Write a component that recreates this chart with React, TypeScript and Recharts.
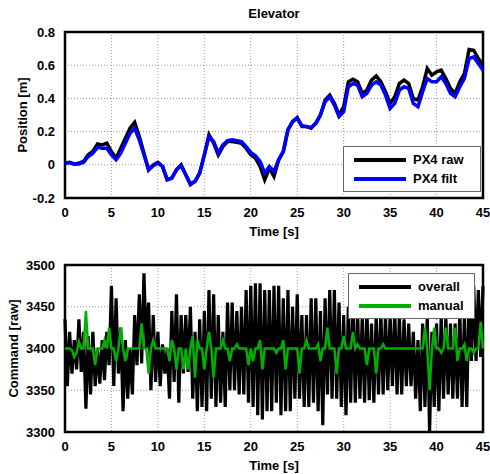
import React from 'react';
import { LineChart, Line, XAxis, YAxis, CartesianGrid, Legend, ReferenceArea } from 'recharts';

// time axis
const timeTicks = [0, 5, 10, 15, 20, 25, 30, 35, 40, 45];

// upper plot: elevator position, sampled every 0.5 s
const posStep = 0.5;
const posTicks = [-0.2, 0, 0.2, 0.4, 0.6, 0.8];
const px4Raw = [
  0.01, 0.014, 0.005, 0.01, 0.02, 0.06, 0.08, 0.125, 0.12, 0.13,
  0.08, 0.04, 0.1, 0.16, 0.22, 0.255, 0.17, 0.07, -0.03, 0.0,
  0.015, -0.01, -0.09, -0.08, -0.03, 0.0, -0.06, -0.12, -0.1, -0.05,
  0.06, 0.18, 0.13, 0.06, 0.11, 0.14, 0.14, 0.135, 0.13, 0.1,
  0.06, 0.04, -0.01, -0.09, -0.02, -0.07, 0.03, 0.08, 0.21, 0.26,
  0.285, 0.23, 0.23, 0.22, 0.25, 0.3, 0.39, 0.42, 0.37, 0.3,
  0.35, 0.5, 0.515, 0.5, 0.43, 0.45, 0.51, 0.535, 0.5, 0.44,
  0.37, 0.41, 0.49, 0.51, 0.49, 0.4, 0.39, 0.47, 0.58, 0.54,
  0.56, 0.57, 0.52, 0.46, 0.43, 0.5, 0.55, 0.695, 0.69, 0.64,
  0.6,
];
const px4Filt = [
  0.01, 0.015, 0.003, 0.005, 0.015, 0.05, 0.07, 0.105, 0.1, 0.1,
  0.06, 0.03, 0.07, 0.13, 0.19, 0.22, 0.15, 0.06, -0.03, -0.005,
  0.01, -0.01, -0.09, -0.08, -0.03, -0.005, -0.06, -0.115, -0.1, -0.05,
  0.06, 0.17, 0.14, 0.07, 0.12, 0.145, 0.15, 0.145, 0.14, 0.11,
  0.075, 0.055, 0.02, -0.05, -0.01, -0.04, 0.03, 0.08, 0.21, 0.26,
  0.28, 0.235, 0.23, 0.225, 0.25, 0.3, 0.38, 0.41, 0.36, 0.29,
  0.32, 0.47, 0.49, 0.48, 0.41, 0.43, 0.48, 0.5, 0.48, 0.42,
  0.34, 0.37, 0.45, 0.47, 0.46, 0.37, 0.35, 0.44, 0.52, 0.5,
  0.5, 0.53, 0.49, 0.43, 0.41, 0.47, 0.52, 0.64, 0.65, 0.61,
  0.57,
];

// lower plot: command, sampled every 0.25 s
const cmdStep = 0.25;
const cmdTicks = [3300, 3350, 3400, 3450, 3500];
const overall = [
  3435, 3355, 3420, 3370, 3410, 3375, 3435, 3372, 3420, 3328, 3415, 3345,
  3420, 3355, 3400, 3358, 3410, 3362, 3420, 3380, 3475, 3355, 3460, 3370,
  3425, 3325, 3410, 3340, 3400, 3345, 3440, 3380, 3465, 3382, 3490, 3400,
  3455, 3350, 3440, 3360, 3420, 3355, 3405, 3370, 3400, 3340, 3445, 3360,
  3465, 3335, 3440, 3370, 3440, 3372, 3450, 3340, 3420, 3325, 3435, 3330,
  3445, 3325, 3470, 3340, 3465, 3330, 3440, 3335, 3420, 3330, 3455, 3350,
  3455, 3350, 3445, 3345, 3450, 3345, 3470, 3335, 3475, 3330, 3478, 3320,
  3478, 3315, 3470, 3325, 3470, 3325, 3475, 3335, 3475, 3320, 3460, 3325,
  3470, 3325, 3450, 3340, 3465, 3340, 3440, 3330, 3440, 3330, 3460, 3335,
  3460, 3325, 3445, 3308, 3460, 3345, 3470, 3340, 3470, 3340, 3455, 3330,
  3440, 3320, 3450, 3335, 3460, 3335, 3445, 3340, 3440, 3335, 3450, 3338,
  3430, 3335, 3440, 3345, 3445, 3345, 3440, 3350, 3440, 3355, 3445, 3345,
  3440, 3345, 3435, 3355, 3430, 3355, 3420, 3340, 3410, 3325, 3430, 3330,
  3440, 3300, 3420, 3330, 3430, 3325, 3440, 3340, 3440, 3345, 3430, 3340,
  3430, 3340, 3445, 3330, 3440, 3330, 3460, 3385, 3475, 3385, 3470, 3390,
  3475,
];
const manual = [
  3400, 3400, 3400, 3398, 3390, 3395, 3408, 3400, 3400, 3445, 3400, 3400,
  3400, 3380, 3400, 3400, 3400, 3410, 3400, 3425, 3400, 3400, 3385, 3400,
  3425, 3400, 3385, 3400, 3400, 3400, 3400, 3400, 3400, 3430, 3400, 3400,
  3370, 3400, 3410, 3400, 3400, 3400, 3400, 3400, 3400, 3385, 3410, 3400,
  3375, 3400, 3400, 3375, 3400, 3375, 3400, 3415, 3365, 3410, 3400, 3400,
  3375, 3400, 3420, 3400, 3365, 3400, 3400, 3400, 3410, 3400, 3400, 3385,
  3400, 3400, 3405, 3400, 3400, 3400, 3400, 3380, 3400, 3385, 3400, 3400,
  3410, 3375, 3400, 3400, 3400, 3400, 3400, 3395, 3400, 3400, 3410, 3375,
  3400, 3400, 3400, 3400, 3400, 3370, 3400, 3400, 3410, 3400, 3400, 3400,
  3400, 3405, 3385, 3400, 3400, 3425, 3400, 3400, 3400, 3370, 3400, 3400,
  3415, 3400, 3400, 3400, 3420, 3400, 3405, 3400, 3400, 3400, 3380, 3400,
  3400, 3400, 3370, 3400, 3400, 3405, 3400, 3400, 3400, 3400, 3400, 3400,
  3400, 3400, 3400, 3400, 3400, 3400, 3400, 3400, 3400, 3400, 3400, 3425,
  3400, 3350, 3400, 3425, 3400, 3400, 3395, 3400, 3425, 3400, 3400, 3400,
  3425, 3385, 3400, 3400, 3405, 3385, 3400, 3400, 3395, 3400, 3400, 3432,
  3400,
];

const posData = px4Raw.map((raw, i) => ({ time: i * posStep, raw, filt: px4Filt[i] }));
const cmdData = overall.map((v, i) => ({ time: i * cmdStep, overall: v, manual: manual[i] }));

const font = 'Liberation Sans, Arial, sans-serif';
const tickStyle = { fill: '#000', fontSize: 13, fontWeight: 'bold', fontFamily: font };
const labelStyle = { fill: '#000', fontSize: 13, fontWeight: 'bold', fontFamily: font };

// legend box drawn like the MATLAB one, entries kept in series order
const BoxLegend = ({ payload, order }: any) => {
  const items = [...(payload || [])].sort(
    (a: any, b: any) => order.indexOf(a.dataKey) - order.indexOf(b.dataKey)
  );
  return (
    <div style={{ background: '#fff', border: '1px solid #666', padding: '3px 6px 3px 10px', fontFamily: font }}>
      {items.map((entry: any) => (
        <div key={entry.value} style={{ display: 'flex', alignItems: 'center', height: 19 }}>
          <span style={{ display: 'inline-block', width: 52, height: 4, background: entry.color, marginRight: 7 }} />
          <span style={{ fontWeight: 'bold', fontSize: 13, color: '#000' }}>{entry.value}</span>
        </div>
      ))}
    </div>
  );
};

const App: React.FC = () => {
  return (
    <div style={{ position: 'relative', width: 490, height: 474, background: '#fff', fontFamily: font }}>
      <style>{'body{margin:0}'}</style>
      <div style={{ position: 'absolute', top: 6, left: 65, width: 418, textAlign: 'center', fontSize: 13, fontWeight: 'bold' }}>
        Elevator
      </div>

      <div style={{ position: 'absolute', top: 0, left: 0 }}>
        <LineChart width={490} height={240} data={posData} margin={{ top: 32, right: 7, bottom: 0, left: 0 }}>
          <CartesianGrid stroke="#999" strokeDasharray="1 2" horizontalValues={posTicks} verticalValues={timeTicks} />
          <XAxis
            dataKey="time"
            type="number"
            domain={[0, 45]}
            ticks={timeTicks}
            tick={tickStyle}
            tickLine={false}
            axisLine={false}
            tickMargin={4}
            height={42}
            label={{ value: 'Time [s]', position: 'insideBottom', offset: 4, style: labelStyle }}
          />
          <YAxis
            type="number"
            domain={[-0.2, 0.8]}
            ticks={posTicks}
            tick={tickStyle}
            tickLine={false}
            axisLine={false}
            tickMargin={4}
            width={65}
            label={{ value: 'Position [m]', angle: -90, position: 'center', dx: -10, style: labelStyle }}
          />
          <Line dataKey="raw" name="PX4 raw" stroke="#000" strokeWidth={3.5} dot={false} isAnimationActive={false} />
          <Line dataKey="filt" name="PX4 filt" stroke="#0000ff" strokeWidth={3.5} dot={false} isAnimationActive={false} />
          <ReferenceArea x1={0} x2={45} y1={-0.2} y2={0.8} fill="none" stroke="#000" strokeWidth={2.5} ifOverflow="visible" />
          <Legend
            layout="horizontal"
            verticalAlign="middle"
            align="center"
            content={<BoxLegend order={['raw', 'filt']} />}
            wrapperStyle={{ top: 146, left: 343, width: 138 }}
          />
        </LineChart>
      </div>

      <div style={{ position: 'absolute', top: 240, left: 0 }}>
        <LineChart width={490} height={234} data={cmdData} margin={{ top: 25, right: 7, bottom: 0, left: 0 }}>
          <CartesianGrid stroke="#999" strokeDasharray="1 2" horizontalValues={cmdTicks} verticalValues={timeTicks} />
          <XAxis
            dataKey="time"
            type="number"
            domain={[0, 45]}
            ticks={timeTicks}
            tick={tickStyle}
            tickLine={false}
            axisLine={false}
            tickMargin={4}
            height={42}
            label={{ value: 'Time [s]', position: 'insideBottom', offset: 4, style: labelStyle }}
          />
          <YAxis
            type="number"
            domain={[3300, 3500]}
            ticks={cmdTicks}
            tick={tickStyle}
            tickLine={false}
            axisLine={false}
            tickMargin={4}
            width={65}
            label={{ value: 'Command [raw]', angle: -90, position: 'center', dx: -19, style: labelStyle }}
          />
          <Line dataKey="overall" name="overall" stroke="#000" strokeWidth={3.2} dot={false} isAnimationActive={false} />
          <Line dataKey="manual" name="manual" stroke="#00b000" strokeWidth={2.5} dot={false} isAnimationActive={false} />
          <ReferenceArea x1={0} x2={45} y1={3300} y2={3500} fill="none" stroke="#000" strokeWidth={2.5} ifOverflow="visible" />
          <Legend
            layout="horizontal"
            verticalAlign="middle"
            align="center"
            content={<BoxLegend order={['overall', 'manual']} />}
            wrapperStyle={{ top: 33, left: 348, width: 127 }}
          />
        </LineChart>
      </div>
    </div>
  );
};

export default App;
